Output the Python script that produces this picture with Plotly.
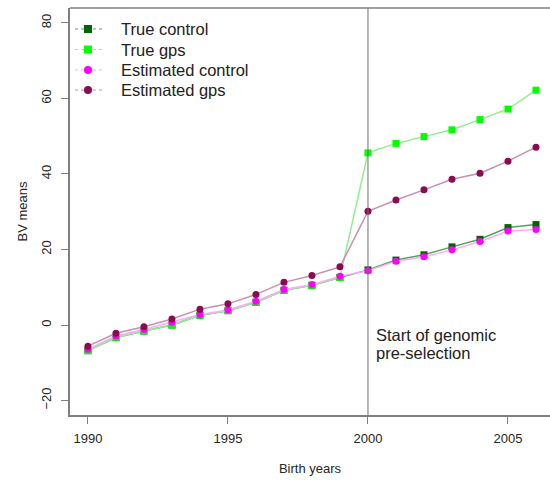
import plotly.graph_objects as go

years = list(range(1990, 2007))
true_control = [-6.8, -3.3, -1.6, 0.0, 2.6, 3.8, 6.0, 9.2, 10.5, 12.6, 14.6, 17.2, 18.6, 20.7, 22.7, 25.8, 26.6]
true_gps = [-6.8, -3.3, -1.6, 0.0, 2.6, 3.8, 6.0, 9.2, 10.5, 12.6, 45.6, 48.1, 49.9, 51.7, 54.4, 57.2, 62.2]
est_control = [-6.4, -2.9, -1.2, 0.7, 2.8, 4.0, 6.3, 9.4, 10.7, 12.9, 14.4, 16.9, 18.1, 19.9, 22.1, 24.9, 25.3]
est_gps = [-5.6, -2.2, -0.45, 1.6, 4.2, 5.6, 8.1, 11.3, 13.1, 15.4, 30.1, 33.1, 35.8, 38.6, 40.2, 43.4, 47.1]

x_ticks = [1990, 1995, 2000, 2005]
y_ticks = [-20, 0, 20, 40, 60, 80]

series = [
    ("True control", true_control, "#006400", "#5aa05a", "square"),
    ("True gps", true_gps, "#00ff00", "#90f090", "square"),
    ("Estimated control", est_control, "#ff00ff", "#ffaaff", "circle"),
    ("Estimated gps", est_gps, "#8b0a50", "#c890b0", "circle"),
]

# plot area in pixels
L, R, T, B = 70, 550, 8, 415
W, H = R - L, B - T

def px(xp):
    return (xp - L) / W

def py(yp):
    return (B - yp) / H

fig = go.Figure()
for name, vals, mcol, lcol, sym in series:
    fig.add_trace(go.Scatter(
        x=years, y=vals, name=name, mode="lines+markers",
        line=dict(color=lcol, width=1.5),
        marker=dict(color=mcol, size=7, symbol=sym, line=dict(width=0)),
        showlegend=False,
    ))

fig.add_vline(x=2000, line=dict(color="#707070", width=1))
fig.add_shape(type="line", xref="paper", yref="paper", x0=0, x1=1, y0=1, y1=1,
              line=dict(color="#808080", width=1.5))

# manual legend (R style)
leg_rows = [29, 49.5, 70, 90]
for (name, vals, mcol, lcol, sym), ry in zip(series, leg_rows):
    fig.add_shape(type="line", xref="paper", yref="paper",
                  x0=px(75), x1=px(105), y0=py(ry), y1=py(ry),
                  line=dict(color=lcol, width=1, dash="dot"))
    fig.add_shape(type="rect" if sym == "square" else "circle",
                  xref="paper", yref="paper",
                  x0=px(84), x1=px(92), y0=py(ry + 4), y1=py(ry - 4),
                  fillcolor=mcol, line=dict(width=0))
    fig.add_annotation(x=px(119), y=py(ry), xref="paper", yref="paper",
                       xanchor="left", yanchor="middle", text=name, showarrow=False,
                       font=dict(size=16.5, color="#222222"))

fig.add_annotation(x=2000.2, y=(325 - 335) / 3.775, xref="x", yref="y", xanchor="left",
                   yanchor="middle", text="Start of genomic", showarrow=False,
                   font=dict(size=16.5, color="#222222"))
fig.add_annotation(x=2000.2, y=(325 - 353) / 3.775, xref="x", yref="y", xanchor="left",
                   yanchor="middle", text="pre-selection", showarrow=False,
                   font=dict(size=16.5, color="#222222"))

fig.update_layout(
    width=550, height=482,
    margin=dict(l=L, r=0, t=T, b=482 - B),
    plot_bgcolor="white", paper_bgcolor="white",
    font=dict(family="Liberation Sans, Arial, sans-serif", color="#222222"),
    showlegend=False,
    xaxis=dict(range=[1989.36, 2006.5], tickvals=x_ticks, ticks="outside", ticklen=7,
               tickcolor="#808080", showline=True, linecolor="#808080", linewidth=1.5,
               showgrid=False, zeroline=False, tickfont=dict(size=13, color="#262626"),
               ticklabelstandoff=4,
               title=dict(text="Birth years", font=dict(size=13, color="#262626"), standoff=19)),
    yaxis=dict(range=[-23.84, 83.97], tickvals=y_ticks, ticks="outside", ticklen=7,
               tickcolor="#808080", showline=True, linecolor="#808080", linewidth=1.5,
               showgrid=False, zeroline=False, tickangle=-90,
               tickfont=dict(size=13, color="#262626"), ticklabelstandoff=5,
               title=dict(text="BV means", font=dict(size=13, color="#262626"), standoff=8)),
)

fig.write_html("out.html")
